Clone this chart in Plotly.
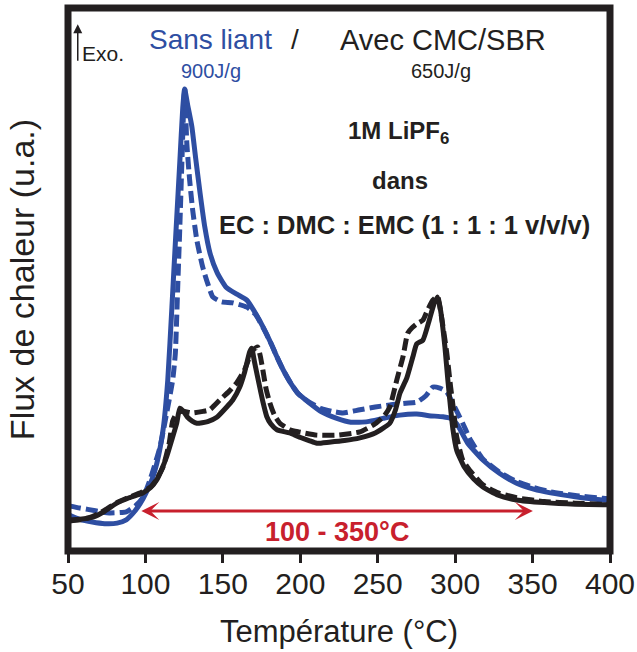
import plotly.graph_objects as go

# DSC traces, temperature in degC, heat flow in arbitrary units
t_blue = [50.8, 57.7, 65.7, 73.7, 81.7, 87.6, 91.6, 96.6, 100.4, 104.4, 107.4, 111.4, 114.4, 117.1,
          119.6, 122.2, 124.1, 125.3, 127.3, 130.0, 132.3, 135.3, 138.3, 141.7, 146.3, 152.1, 159.0,
          165.5, 171.0, 176.0, 180.9, 184.9, 188.9, 193.9, 198.9, 205.7, 213.7, 223.6, 232.6, 243.5,
          253.4, 264.3, 275.2, 283.1, 292.1, 297.0, 301.0, 307.9, 317.9, 328.8, 339.7, 350.7, 361.6,
          377.5, 395.4, 400]
hf_blue = [6.1, 5.3, 4.8, 4.5, 4.6, 5.2, 6.3, 8.2, 10.2, 12.8, 15.7, 21.9, 31, 44.6, 58, 71.5, 81.5, 85,
           82, 78, 72.5, 65.7, 59.5, 54.6, 51, 48.3, 47, 45.9, 43.5, 40.9, 38, 35.4, 33, 30.5, 28.5,
           26.9, 25.2, 24, 23.3, 23.4, 24, 24.6, 24.8, 24.5, 24.3, 24.0, 23.0, 19.5, 16.3, 13.8, 12.0,
           10.9, 10.2, 9.5, 8.9, 8.85]

t_blue_d = [50.8, 57.7, 67.7, 76.6, 87.6, 93.5, 98.5, 103.4, 109.4, 113.4, 117.6, 119.3, 120.8, 122.2,
            123.6, 124.8, 125.4, 126.7, 128.6, 130.5, 133.2, 137.0, 140.2, 143.5, 149.1, 156.4, 165.5,
            171.0, 176.0, 180.9, 184.9, 188.9, 193.9, 198.9, 205.7, 213.6, 220.6, 227.5, 238.5, 248.4,
            257.8, 268.2, 275.2, 281.1, 285.6, 290.1, 294.6, 299.0, 304.9, 309.9, 317.9, 328.8, 339.7,
            350.7, 361.6, 377.5, 395.4, 400]
hf_blue_d = [7.8, 7.4, 6.9, 6.5, 6.7, 7.8, 9.4, 13, 18.7, 24.5, 31.1, 36, 48, 59.4, 72, 82.5, 85,
             75, 68, 62.6, 57, 52, 49, 46.5, 45.6, 45.4, 44.6, 43.3, 40.8, 38, 35.4, 33,
             30.5, 28.5, 27, 25.8, 25.3, 25, 25.6, 26.1, 26.5, 26.8, 27, 28.2, 29.8, 29.6, 28.9, 26.5,
             23.1, 20, 16.5, 14, 12.3, 11.2, 10.4, 9.7, 9.2, 9.1]

t_black = [50.8, 57.7, 66.0, 73.7, 81.5, 89.5, 98.3, 103.4, 107.3, 110.4, 113.7, 117.0, 120.2, 122.2,
           124.3, 127.2, 130.2, 133.2, 140.2, 146.1, 152.5, 156.4, 160.9, 164.0, 167.3, 168.6, 170.4,
           173.8, 175.9, 178.4, 180.9, 184.9, 193.2, 198.8, 205.7, 210.7, 218.6, 228.5, 238.5, 248.4,
           257.8, 261.4, 264.4, 268.8, 272.7, 275.2, 279.2, 283.1, 286.1, 288.6, 290.6, 293.4, 295.3,
           298.6, 301.0, 305.9, 311.9, 317.9, 327.8, 339.7, 357.6, 377.5, 395.4, 400]
hf_black = [5.2, 5.3, 5.7, 6.8, 8.3, 9.3, 10.2, 11.2, 12.6, 14.5, 16.9, 20, 23.1, 25.9, 25.4, 24.2,
            23.5, 23.1, 23.4, 24.2, 26.1, 27.4, 29.8, 32.5, 36.3, 37.0, 34.5, 29.8, 27, 24.3, 23,
            21.9, 21.3, 20.6, 19.9, 19.4, 19.6, 19.9, 20.4, 21.3, 23.1, 25.5, 28.7, 31.5, 35.4, 37.8,
            38.5, 42, 45, 46.5, 44, 37.2, 31.1, 21.9, 18.1, 15, 12.8, 11.3, 9.8, 8.9, 8.4, 8.1,
            8.0, 8.0]

t_black_d = [50.8, 57.7, 65.7, 73.7, 81.5, 89.5, 97.5, 103.4, 107.4, 111.4, 115.4, 117.6, 120.3, 124.3,
             130.5, 137.2, 141.5, 148.0, 154.0, 159.0, 164.0, 167.3, 170.0, 172.5, 174.2, 175.8, 177.9,
             180.3, 183.3, 186.8, 193.2, 198.8, 210.7, 223.6, 238.5, 248.4, 254.3, 257.8, 262.3, 266.3,
             269.4, 272.2, 275.2, 279.2, 282.1, 285.6, 288.6, 291.1, 294.6, 297.0, 299.0, 301.0, 304.9,
             309.4, 317.9, 327.8, 339.7, 357.6, 377.5, 395.4, 400]
hf_black_d = [5.0, 5.2, 5.8, 7, 8.4, 9.4, 10.3, 11.3, 12.8, 15, 19.5, 23.5, 25, 25.3, 25, 25.3, 25.6,
              27.4, 29, 30.6, 33, 35.4, 36.8, 37.2, 35.5, 33, 29.5, 26.9, 24.6, 23.1, 21.9,
              21.5, 20.9, 20.9, 21.5, 23, 24.5, 26.1, 31.1, 35.4, 39.8, 40.8, 41.5, 42.2, 44, 45.9, 46.6,
              43, 36.1, 30, 25.5, 20.6, 16.3, 14.4, 11.7, 10.2, 9.3, 8.6, 8.3, 8.1, 8.1]

x_ticks = [50, 100, 150, 200, 250, 300, 350, 400]
temp_window = [100, 350]

BLUE = "#2e4ea2"
BLACK = "#231f20"
RED = "#c8202d"
FONT = "Liberation Sans, Arial, sans-serif"

fig = go.Figure()
fig.add_trace(go.Scatter(x=t_blue, y=hf_blue, mode="lines", line=dict(color=BLUE, width=5, shape="spline", smoothing=0.5)))
fig.add_trace(go.Scatter(x=t_blue_d, y=hf_blue_d, mode="lines", line=dict(color=BLUE, width=5, dash="12px,5px", shape="spline", smoothing=0.5)))
fig.add_trace(go.Scatter(x=t_black_d, y=hf_black_d, mode="lines", line=dict(color=BLACK, width=5, dash="12px,5px", shape="spline", smoothing=0.5)))
fig.add_trace(go.Scatter(x=t_black, y=hf_black, mode="lines", line=dict(color=BLACK, width=5, shape="spline", smoothing=0.5)))

# thick frame centred on the plot edges
fig.add_shape(type="rect", xref="paper", yref="paper", x0=0, x1=1, y0=0, y1=1,
              line=dict(color=BLACK, width=7))

# red double arrow + label
fig.add_annotation(x=350.2, y=6.85, ax=96.4, ay=6.85, xref="x", yref="y", axref="x", ayref="y",
                   text="", showarrow=True, arrowside="end+start", arrowhead=3, startarrowhead=3,
                   arrowsize=1, startarrowsize=1, arrowwidth=3, arrowcolor=RED)
fig.add_annotation(x=223.6, y=3.0, xref="x", yref="y", showarrow=False,
                   text="<b>%d - %d°C</b>" % (temp_window[0], temp_window[1]),
                   font=dict(family=FONT, size=27, color=RED))

# header labels
fig.add_annotation(x=56.3, y=97, xref="x", yref="y", ax=0, ay=38, text="", showarrow=True,
                   arrowhead=2, arrowsize=1.2, arrowwidth=1.5, arrowcolor=BLACK)
fig.add_annotation(x=57.9, y=91.5, xref="x", yref="y", xanchor="left", showarrow=False, text="Exo.",
                   font=dict(family=FONT, size=21, color=BLACK))
fig.add_annotation(x=142.2, y=94.1, xref="x", yref="y", showarrow=False, text="Sans liant",
                   font=dict(family=FONT, size=28, color=BLUE))
fig.add_annotation(x=196.4, y=94.1, xref="x", yref="y", showarrow=False, text="/",
                   font=dict(family=FONT, size=28, color=BLACK))
fig.add_annotation(x=292.1, y=94.1, xref="x", yref="y", showarrow=False, text="Avec CMC/SBR",
                   font=dict(family=FONT, size=29, color=BLACK))
fig.add_annotation(x=142.2, y=88.3, xref="x", yref="y", showarrow=False, text="900J/g",
                   font=dict(family=FONT, size=20, color=BLUE))
fig.add_annotation(x=290.8, y=88.3, xref="x", yref="y", showarrow=False, text="650J/g",
                   font=dict(family=FONT, size=20, color=BLACK))

# electrolyte
fig.add_annotation(x=263.3, y=77.0, xref="x", yref="y", showarrow=False, text="<b>1M LiPF<sub>6</sub></b>",
                   font=dict(family=FONT, size=24, color=BLACK))
fig.add_annotation(x=264.3, y=68.1, xref="x", yref="y", showarrow=False, text="<b>dans</b>",
                   font=dict(family=FONT, size=24, color=BLACK))
fig.add_annotation(x=267.6, y=59.8, xref="x", yref="y", showarrow=False,
                   text="<b>EC : DMC : EMC (1 : 1 : 1 v/v/v)</b>",
                   font=dict(family=FONT, size=25.5, color=BLACK))

fig.update_xaxes(range=[50, 400], tickvals=x_ticks, ticks="outside", ticklen=11, tickwidth=3,
                 tickcolor=BLACK, showline=False, showgrid=False, zeroline=False, automargin=False,
                 ticklabelstandoff=-5,
                 tickfont=dict(family=FONT, size=30, color=BLACK),
                 title=dict(text="Température (°C)", font=dict(family=FONT, size=31, color=BLACK), standoff=21))
fig.update_yaxes(range=[-0.56, 100], showticklabels=False, ticks="", showline=False,
                 showgrid=False, zeroline=False, automargin=False,
                 title=dict(text="Flux de chaleur (u.a.)", font=dict(family=FONT, size=34, color=BLACK), standoff=22))
fig.update_layout(width=637, height=652, showlegend=False,
                  margin=dict(l=68, r=27, t=8, b=101),
                  plot_bgcolor="white", paper_bgcolor="white")
# drop the default page margin so the figure sits at the window's top-left corner
fig.write_html("out.html", config={"displayModeBar": False},
               post_script="document.body.style.margin='0';")
